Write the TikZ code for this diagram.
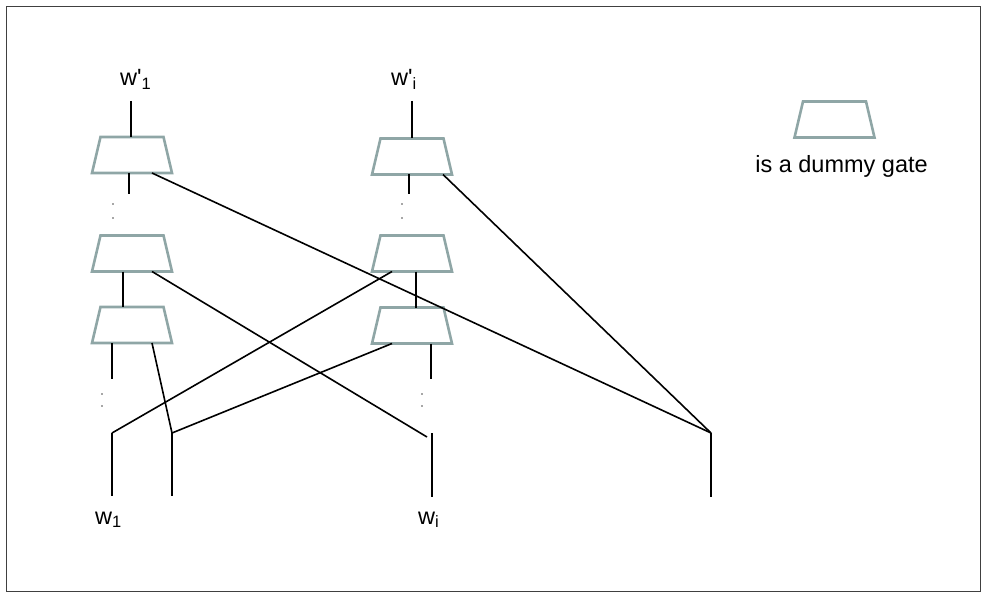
\documentclass[tikz,border=0pt]{standalone}
\usepackage{fontspec}
\setmainfont{Liberation Sans}
\usetikzlibrary{calc}
\definecolor{gateedge}{RGB}{143,166,166}
\begin{document}
\begin{tikzpicture}[x=1bp,y=-1bp,
  gate/.style={rectangle, minimum width=80bp, minimum height=36bp,
    inner sep=0pt, outer sep=0pt},
  gateline/.style={draw=gateedge, line width=2.6bp, line join=miter},
  wirebold/.style={line width=2.7bp},
  wiremid/.style={line width=2bp},
  wirethin/.style={line width=1.6bp},
  lbl/.style={font=\fontsize{23.5bp}{28bp}\selectfont, inner sep=0pt},
  dotmark/.style={fill=black!70, draw=none}]
  % canvas and frame
  \useasboundingbox (0,0) rectangle (987,595);
  \draw[line width=1bp, black!75] (6.5,7) rectangle (980.5,591);

  % gates, column 1
  \node[gate] (g11) at (132,155) {};
  \node[gate] (g12) at (132,253.5) {};
  \node[gate] (g13) at (132,325) {};
  % gates, column i
  \node[gate] (g21) at (412,156.5) {};
  \node[gate] (g22) at (412,253.5) {};
  \node[gate] (g23) at (412,325.5) {};
  % legend
  \node[gate] (legend) at (834.5,119.5) {};
  \node[lbl, anchor=base] (legtxt) at (841.5,173) {is a dummy gate};

  % trapezoid outline of every gate: narrow top, wide bottom
  \foreach \g in {g11,g12,g13,g21,g22,g23,legend}
    \draw[gateline] (\g.south west) -- ($(\g.north west)+(8.5,0)$)
      -- ($(\g.north east)+(-8.5,0)$) -- (\g.south east) -- cycle;

  % labels
  \node[lbl, anchor=base west] (out1) at (120,86) {w\textquotesingle\textsubscript{1}};
  \node[lbl, anchor=base west] (outi) at (391,86) {w\textquotesingle\textsubscript{i}};
  \node[lbl, anchor=base west] (in1) at (95,524) {w\textsubscript{1}};
  \node[lbl, anchor=base west] (ini) at (418,524) {w\textsubscript{i}};

  % wire ends and junctions
  \coordinate (t1) at (131,101);
  \coordinate (t2) at (412,101);
  \coordinate (d11) at (129,194);
  \coordinate (d21) at (409,194);
  \coordinate (s13) at (112,379);
  \coordinate (s23) at (431,379);
  \coordinate (jA) at (112,433);
  \coordinate (jAb) at (112,496);
  \coordinate (jB) at (172,433);
  \coordinate (jBb) at (172,496);
  \coordinate (jC) at (432,433);
  \coordinate (jCb) at (432,497);
  \coordinate (jCe) at (427,437);
  \coordinate (jD) at (711,433);
  \coordinate (jDb) at (711,497);

  % column 1 wiring
  \draw[wirebold] (t1) -- (g11.north -| t1);
  \draw[wiremid] ($(g11.south)+(-3,0)$) -- (d11);
  \draw[wiremid] ($(g12.south)+(-9,0)$) -- ($(g13.north)+(-9,0)$);
  \draw[wirebold] ($(g13.south)+(-20,0)$) -- (s13);
  \draw[wirethin] ($(g13.south)+(20,0)$) -- (jB);

  % column i wiring
  \draw[line width=1.8bp] (t2) -- (g21.north);
  \draw[wiremid] ($(g21.south)+(-3,0)$) -- (d21);
  \draw[wiremid] ($(g22.south)+(4,0)$) -- ($(g23.north)+(4,0)$);
  \draw[wirebold] ($(g23.south)+(19,0)$) -- (s23);

  % crossing wires
  \draw[wirethin] ($(g11.south)+(20,0)$) -- (jD);
  \draw[wirethin] ($(g21.south)+(31,0)$) -- (jD);
  \draw[wirethin] ($(g12.south)+(20,0)$) -- (jCe);
  \draw[wirethin] (jA) -- ($(g22.south)+(-20,0)$);
  \draw[wirethin] (jB) -- ($(g23.south)+(-20,0)$);

  % input stubs
  \draw[wirebold] (jA) -- (jAb);
  \draw[wirebold] (jB) -- (jBb);
  \draw[wirebold] (jC) -- (jCb);
  \draw[wirebold] (jD) -- (jDb);

  % continuation dots
  \foreach \px/\py in {113/204, 113/218, 402/204, 402/218,
                       102/394, 102/406, 422/394, 422/406}
    \fill[dotmark] (\px,\py) circle (0.9bp);
\end{tikzpicture}
\end{document}
